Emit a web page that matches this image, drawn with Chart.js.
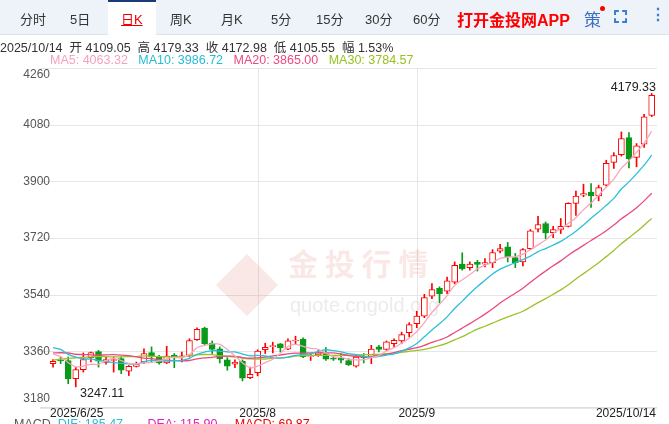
<!DOCTYPE html>
<html><head><meta charset="utf-8">
<script src="https://cdn.jsdelivr.net/npm/chart.js@4.4.1/dist/chart.umd.min.js"></script>
<style>
body{margin:0;width:669px;height:424px;overflow:hidden;background:#fff;font-family:"Liberation Sans",Arial,"Noto Sans CJK SC",sans-serif;position:relative}
#bar{position:absolute;left:0;top:0;width:669px;height:34px;background:#eef3f9;border-bottom:1px solid #dde3ea}
.t{position:absolute;top:9px;font-size:13px;color:#333}
#sel{position:absolute;left:108px;top:0;width:48px;height:35px;background:#fff;border-top:2px solid #1b3a7a;box-sizing:border-box}
#info{position:absolute;left:0;top:37px;font-size:12.5px;color:#333;white-space:nowrap}
#ma{position:absolute;left:50px;top:53px;font-size:12.5px;white-space:nowrap}
#macd{position:absolute;left:14px;top:417px;font-size:12.5px;white-space:nowrap;color:#555}
canvas{position:absolute;left:0;top:0}
</style></head><body>
<canvas id="c" width="669" height="424"></canvas>
<div id="bar"><div id="sel"></div>
<span class="t" style="left:20px">分时</span><span class="t" style="left:70px">5日</span>
<span class="t" style="left:121px;color:#e00;text-decoration:underline">日K</span>
<span class="t" style="left:170px">周K</span><span class="t" style="left:221px">月K</span>
<span class="t" style="left:271px">5分</span><span class="t" style="left:316px">15分</span>
<span class="t" style="left:365px">30分</span><span class="t" style="left:413px">60分</span>
<span class="t" style="left:457px;top:7px;color:#f00;font-weight:bold;font-size:16px">打开金投网APP</span>
<span class="t" style="left:584px;top:6px;color:#3a6fc0;font-size:17px">策</span>
<span style="position:absolute;left:600px;top:6px;width:5px;height:5px;border-radius:3px;background:#f00"></span>
<span style="position:absolute;left:614px;top:10px;width:13px;height:13px;border:2px dashed #3a7fd0;box-sizing:border-box"></span>
<span class="t" style="left:650px;top:5px;color:#3a7fd0;font-weight:bold;font-size:16px">⋮</span>
</div>
<div id="info">2025/10/14 &nbsp;开 4109.05 &nbsp;高 4179.33 &nbsp;收 4172.98 &nbsp;低 4105.55 &nbsp;幅 1.53%</div>
<div id="ma"><span style="color:#f5a3ba">MA5: 4063.32</span> &nbsp;&nbsp;<span style="color:#27bcd6">MA10: 3986.72</span> &nbsp;&nbsp;<span style="color:#ec4a7c">MA20: 3865.00</span> &nbsp;&nbsp;<span style="color:#98c020">MA30: 3784.57</span></div>
<div id="macd">MACD &nbsp;<span style="color:#27bcd6">DIF: 185.47</span> &nbsp;&nbsp;&nbsp;&nbsp;&nbsp;&nbsp;<span style="color:#e020c0">DEA: 115.90</span> &nbsp;&nbsp;&nbsp;&nbsp;<span style="color:#e00">MACD: 69.87</span></div>
<script>
const priorCloses=[3240,3205,3230,3290,3314,3295,3357,3342,3300,3288,3318,3289,3381,3353,3374,3353,3310,3326,3322,3355,3386,3433,3385,3388,3370,3369,3368,3368,3323];
const opens=[3321,3332,3331,3273,3302,3340,3359,3325,3331,3337,3297,3312,3326,3356,3342,3323,3347,3342,3347,3397,3434,3386,3368,3333,3319,3328,3276,3292,3365,3375,3384,3367,3393,3398,3344,3349,3353,3338,3338,3331,3313,3344,3342,3374,3366,3384,3393,3419,3448,3472,3535,3560,3551,3580,3637,3626,3643,3637,3642,3678,3692,3658,3644,3686,3748,3766,3737,3747,3757,3830,3856,3866,3854,3888,3960,3985,4039,3976,4018,4109.05];
const highs=[3334,3342,3342,3310,3355,3358,3363,3342,3342,3342,3315,3326,3368,3374,3347,3376,3353,3358,3400,3435,3437,3393,3374,3340,3333,3333,3310,3365,3386,3389,3385,3400,3408,3403,3353,3363,3372,3342,3353,3337,3347,3353,3379,3379,3393,3400,3421,3451,3487,3541,3575,3565,3596,3644,3673,3644,3649,3655,3683,3700,3706,3671,3686,3747,3789,3771,3757,3782,3832,3869,3891,3893,3888,3967,3991,4057,4055,4020,4113,4179.33];
const lows=[3310,3321,3257,3247.11,3294,3326,3310,3319,3294,3289,3283,3310,3321,3326,3319,3321,3308,3326,3342,3395,3379,3353,3323,3300,3308,3266,3273,3282,3353,3355,3358,3365,3381,3340,3331,3344,3331,3331,3323,3315,3310,3323,3321,3358,3363,3374,3384,3406,3435,3467,3527,3514,3543,3575,3618,3618,3615,3628,3626,3673,3644,3626,3631,3683,3739,3718,3721,3734,3755,3792,3851,3817,3838,3885,3941,3980,3943,3946,4008,4105.55];
const closes=[3328,3330,3272,3302,3334,3356,3329,3334,3334,3300,3312,3319,3353,3342,3323,3345,3342,3346,3394,3430,3384,3366,3337,3313,3326,3275,3287,3361,3373,3378,3371,3393,3396,3342,3346,3355,3335,3336,3332,3318,3342,3340,3367,3366,3390,3395,3413,3445,3472,3531,3556,3543,3584,3633,3622,3637,3636,3642,3674,3686,3660,3642,3683,3743,3763,3736,3747,3757,3830,3853,3861,3854,3880,3957,3982,4036,3972,4013,4105,4172.98];
const yTicks=[3180,3360,3540,3720,3900,4080,4260];
const xLabels=[{i:0,t:"2025/6/25",a:"left"},{i:27,t:"2025/8",a:"center",g:true},{i:48,t:"2025/9",a:"center",g:true},{i:79,t:"2025/10/14",a:"right"}];

const UP="#f00",DN="#0a9a1a";
const all=priorCloses.concat(closes);
function ma(n){return closes.map((c,i)=>{const k=i+priorCloses.length;let s=0;for(let j=k-n+1;j<=k;j++)s+=all[j];return {x:i,y:s/n};});}
const up=closes.map((c,i)=>c>=opens[i]);
const wick=closes.map((c,i)=>({x:i,y:[lows[i],highs[i]]}));
const body=closes.map((c,i)=>{let o=opens[i];let cc=c;if(Math.abs(cc-o)<3){const m=(cc+o)/2;o=m-1.5;cc=m+1.5;}return {x:i,y:[o,cc]};});
const line=(d,col)=>({type:'line',data:d,borderColor:col,borderWidth:1.3,pointRadius:0,tension:0.3,order:0});
const extra={id:'extra',
 beforeDatasetsDraw(ch){const {ctx,chartArea:a,scales:{x,y}}=ch;ctx.save();ctx.strokeStyle="#e6e6e6";ctx.lineWidth=1;
  yTicks.forEach(v=>{const p=Math.round(y.getPixelForValue(v))+0.5;ctx.beginPath();ctx.moveTo(a.left,p);ctx.lineTo(a.right,p);ctx.stroke();});
  xLabels.filter(l=>l.g).forEach(l=>{const p=Math.round(x.getPixelForValue(l.i))+0.5;ctx.beginPath();ctx.moveTo(p,a.top);ctx.lineTo(p,a.bottom);ctx.stroke();});
  ctx.globalAlpha=0.13;ctx.fillStyle="#d05040";ctx.translate(247,285);ctx.rotate(Math.PI/4);ctx.fillRect(-22,-22,44,44);ctx.rotate(-Math.PI/4);ctx.translate(-247,-285);
  ctx.font="bold 30px 'Noto Sans CJK SC'";ctx.textAlign="left";ctx.textBaseline="middle";ctx.fillText("金 投 行 情",288,264);
  ctx.fillStyle="#999";ctx.globalAlpha=0.2;ctx.font="20px 'Liberation Sans'";ctx.fillText("quote.cngold.org",290,306);
  ctx.restore();},
 afterDatasetsDraw(ch){const {ctx,chartArea:a,scales:{x,y}}=ch;ctx.save();ctx.font="12px 'Liberation Sans'";ctx.fillStyle="#555";ctx.textAlign="right";ctx.textBaseline="middle";
  yTicks.forEach(v=>{let p=y.getPixelForValue(v);p=Math.min(399,Math.max(75,p));ctx.fillText(String(v),50,p);});
  ctx.fillStyle="#222";ctx.textBaseline="top";
  xLabels.forEach(l=>{ctx.textAlign=l.a;let px=x.getPixelForValue(l.i);if(l.a=="left")px=50;if(l.a=="right")px=656;ctx.fillText(l.t,px,408);});
  ctx.strokeStyle="#ddd";ctx.beginPath();ctx.moveTo(a.left,a.bottom-0.5);ctx.lineTo(a.right,a.bottom-0.5);ctx.stroke();
  ctx.font="12.5px 'Liberation Sans'";ctx.fillStyle="#222";ctx.textBaseline="middle";
  ctx.textAlign="right";ctx.fillText("4179.33",656,88);
  ctx.textAlign="left";ctx.fillText("3247.11",80,394);
  ctx.restore();}};
new Chart(document.getElementById('c'),{
 data:{datasets:[
  line(ma(5),"#f7a8be"),line(ma(10),"#2bc0da"),line(ma(20),"#ea4a7c"),line(ma(30),"#9cc22a"),
  {type:'bar',data:body,order:1,grouped:false,barThickness:6,backgroundColor:up.map(u=>u?"#fff":DN),borderColor:up.map(u=>u?UP:DN),borderWidth:1,borderSkipped:false},
  {type:'bar',data:wick,order:2,grouped:false,barThickness:1,backgroundColor:up.map(u=>u?UP:DN),borderWidth:0}
 ]},
 options:{responsive:false,animation:false,
  layout:{padding:{left:40,right:12,top:68,bottom:16}},
  plugins:{legend:{display:false},tooltip:{enabled:false}},
  scales:{x:{type:'linear',min:-1.72,max:79.7,display:false,offset:false},
          y:{min:3180,max:4260,display:false}}},
 plugins:[extra]});
</script></body></html>
